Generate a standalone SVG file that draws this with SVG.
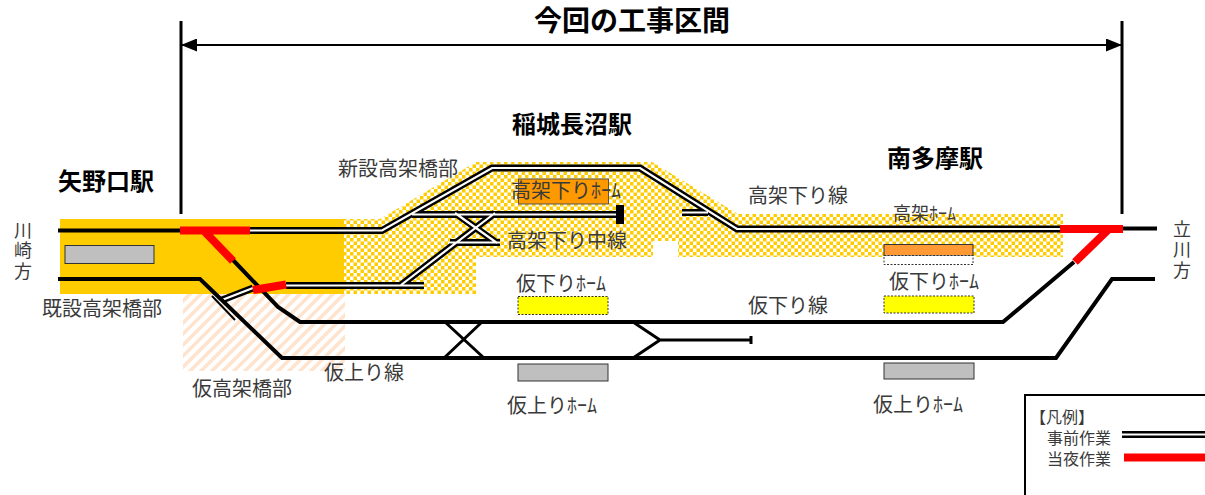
<svg xmlns="http://www.w3.org/2000/svg" width="1205" height="495" viewBox="0 0 1205 495">
<style>
text{font-family:"Noto Sans CJK JP","Noto Sans",sans-serif;fill:#3a3a3a;font-size:20px}
.t{fill:#000;font-weight:700;font-size:24px}
.s{font-size:16px}
.v{font-size:18px;writing-mode:vertical-rl;letter-spacing:2.500px}
.f{fill:none;stroke-linejoin:miter}
.b{stroke:#000;stroke-width:4}
.w{stroke:#000;stroke-width:3}
.n{stroke:#000;stroke-width:2}
.r{stroke:#f00;stroke-width:8}
.o{stroke:#000;stroke-width:7}
.i{stroke:#fff;stroke-width:2.200}
</style>
<defs>
<pattern id="chk" width="7" height="7" patternUnits="userSpaceOnUse"><rect width="7" height="7" fill="#fff"/><rect width="3.500" height="3.500" fill="#fc0"/><rect x="3.500" y="3.500" width="3.500" height="3.500" fill="#fc0"/></pattern>
<pattern id="hat" width="11" height="11" patternUnits="userSpaceOnUse"><path d="M-3 14L14 -3M-3 3L3 -3M8 14L14 8" stroke="#fee3cf" stroke-width="3.500" fill="none"/></pattern>
<marker id="ah" markerWidth="16" markerHeight="13" refX="16" refY="6.500" orient="auto-start-reverse" markerUnits="userSpaceOnUse"><path d="M0 0L16 6.500L0 13z" fill="#000"/></marker>
<path id="dbl" d="M250 230.500H382L492 168H640L737 229H1060M412 214.500H616M455 213L497 243M401 285L495 213M450 242.500H500M286 285.500H424M682 212.500H708M222 300L253 288"/>
</defs>
<g id="areas">
<rect x="183" y="294" width="162" height="77" fill="url(#hat)"/>
<rect x="60" y="219" width="284" height="75" fill="#fc0"/>
<path d="M344 219H380L476 162H652L738 214H1063V257H678V241H653V257H476V294H344Z" fill="url(#chk)"/>
</g>
<g id="platforms">
<rect id="p1" x="65" y="245.500" width="89" height="18" fill="#bfbfbf" stroke="#333"/>
<rect id="p2" x="518.500" y="179" width="90" height="25" fill="#f90" stroke="#555"/>
<rect id="p3" x="518" y="296.500" width="90" height="18" fill="#ff0" stroke="#333" stroke-dasharray="2 1.500"/>
<rect id="p4" x="518" y="364" width="90" height="17" fill="#bfbfbf" stroke="#333"/>
<rect id="p5" x="884" y="244.500" width="89" height="11" fill="#f93" stroke="#333"/>
<rect id="p6" x="884" y="255.500" width="89" height="9" fill="#fff" stroke="#333" stroke-dasharray="2 1.500"/>
<rect id="p7" x="884" y="296" width="90" height="17" fill="#ff0" stroke="#333" stroke-dasharray="2 1.500"/>
<rect id="p8" x="884" y="363" width="90" height="16" fill="#bfbfbf" stroke="#333"/>
</g>
<g id="connectors" class="f">
<path class="w" d="M181 21V214M1122 21V214"/>
<path class="n" d="M181 45H1122" marker-start="url(#ah)" marker-end="url(#ah)"/>
<use href="#dbl" class="o"/>
<use href="#dbl" class="i"/>
<path class="n" d="M212 296L235 320"/>
<path class="b" d="M58 230.500H180M1120 228.500H1157M58 279H200L282 358H1056L1112 279H1155"/>
<path class="b" d="M233 260L278 307L300 322H1003L1074 262"/>
<path class="w" d="M445 322L484 358M482 322L444 358M633 322L660 340L633 358M660 340H751"/>
<path d="M751 336V344" stroke="#000" stroke-width="3"/>
<path d="M620 205V224" stroke="#000" stroke-width="8"/>
<path class="r" d="M180 230.500H250M205 232L233 261M253 290L286 284.500M1060 229H1123M1108 230L1075 262"/>
</g>
<g id="labels">
<text x="534" y="31" style="font-size:28px;font-weight:700;fill:#000">今回の工事区間</text>
<text x="512" y="133" class="t">稲城長沼駅</text>
<text x="58" y="190" class="t">矢野口駅</text>
<text x="887" y="167" class="t">南多摩駅</text>
<text x="338" y="176">新設高架橋部</text>
<text x="511" y="198">高架下りﾎｰﾑ</text>
<text x="507" y="248">高架下り中線</text>
<text x="748" y="203">高架下り線</text>
<text x="893" y="220" style="font-size:18px">高架ﾎｰﾑ</text>
<text x="516" y="291">仮下りﾎｰﾑ</text>
<text x="889" y="289">仮下りﾎｰﾑ</text>
<text x="748" y="313">仮下り線</text>
<text x="324" y="380">仮上り線</text>
<text x="507" y="413">仮上りﾎｰﾑ</text>
<text x="873" y="412">仮上りﾎｰﾑ</text>
<text x="42" y="316">既設高架橋部</text>
<text x="192" y="396">仮高架橋部</text>
<text x="23" y="221" class="v">川崎方</text>
<text x="1182" y="220" class="v">立川方</text>
</g>
<g id="legend">
<path d="M1205 395H1025V495" fill="none" stroke="#000" stroke-width="2"/>
<text x="1030" y="423" class="s">【凡例】</text>
<text x="1047" y="444" class="s">事前作業</text>
<text x="1047" y="465" class="s">当夜作業</text>
<path d="M1122 434.500H1205" stroke="#000" stroke-width="7"/>
<path d="M1122 434.500H1205" stroke="#fff" stroke-width="2"/>
<path d="M1124 457.500H1205" stroke="#f00" stroke-width="8"/>
</g>
</svg>
